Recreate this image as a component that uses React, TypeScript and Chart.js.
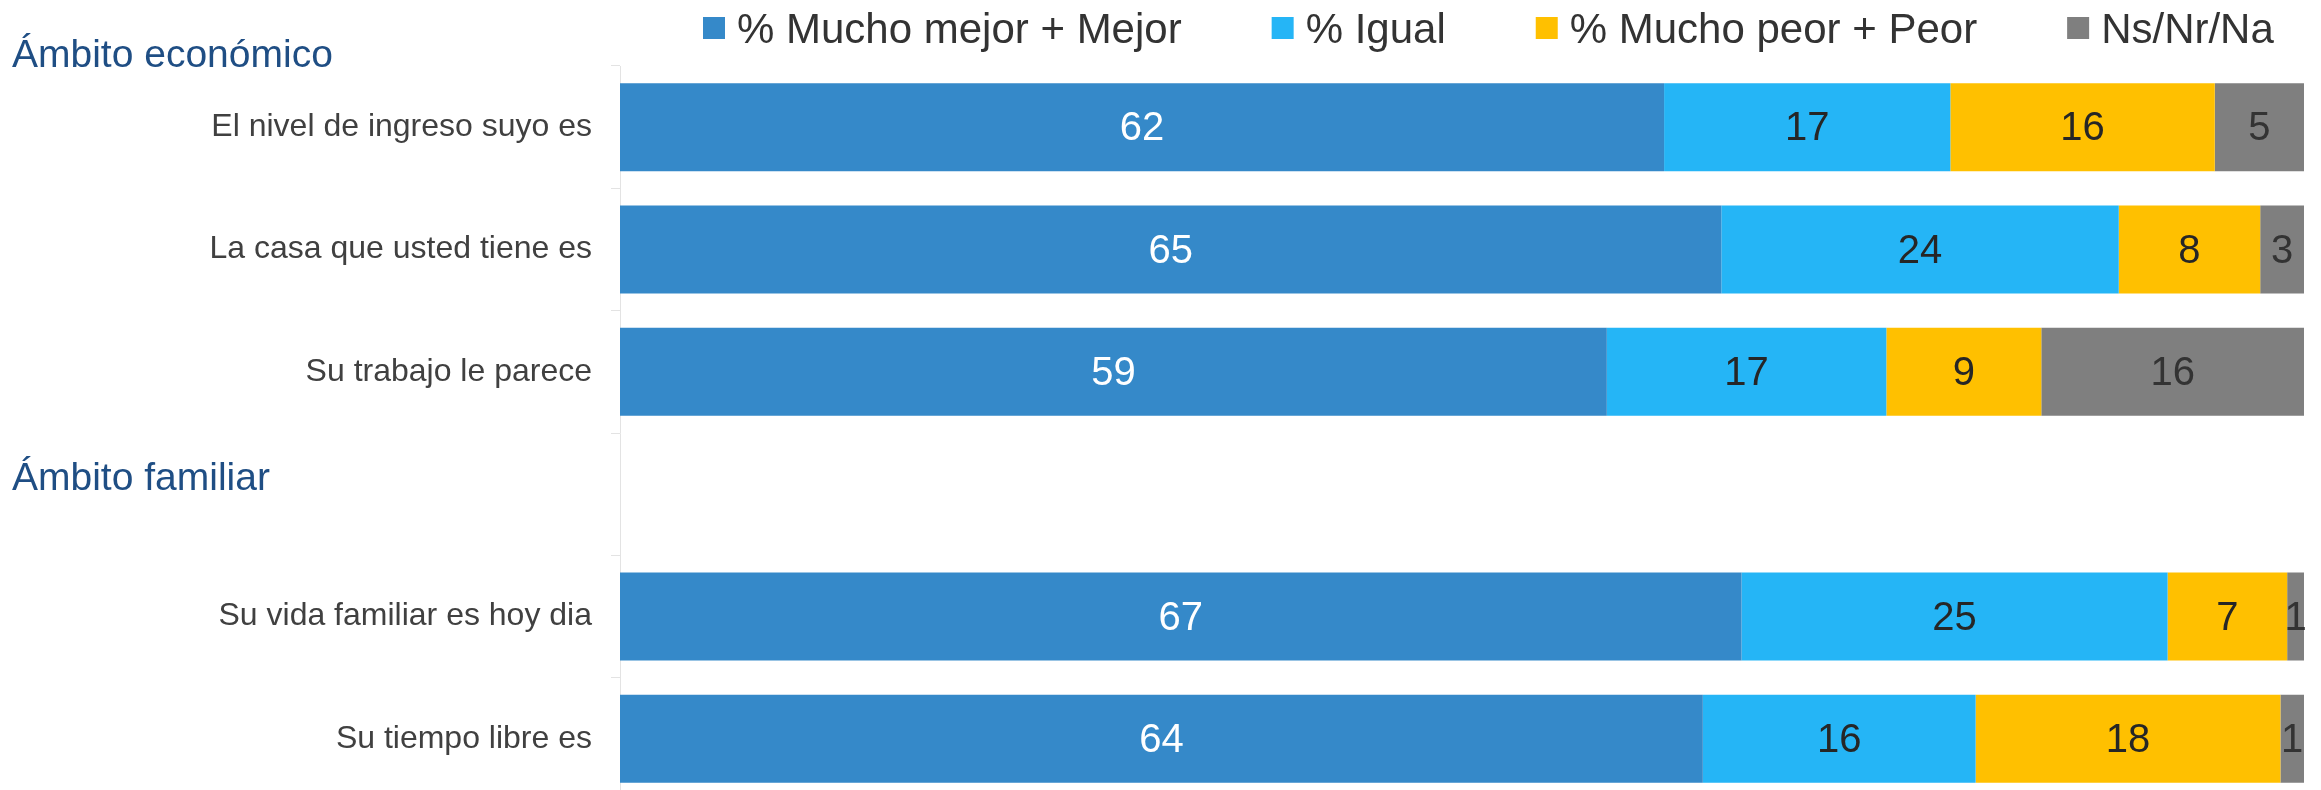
import React, { useEffect, useRef } from "react";
import { Chart, registerables } from "chart.js";

Chart.register(...registerables);

const categories = [
  "El nivel de ingreso suyo es",
  "La casa que usted tiene es",
  "Su trabajo le parece",
  "",
  "Su vida familiar es hoy dia",
  "Su tiempo libre es",
];

const seriesNames = ["% Mucho mejor + Mejor", "% Igual", "% Mucho peor + Peor", "Ns/Nr/Na"];
const seriesColors = ["#3589C9", "#25B5F6", "#FFC000", "#7F7F7F"];
const labelColors = ["#FFFFFF", "#262626", "#262626", "#333333"];

const mejor = [62.0, 65.4, 58.6, null, 66.6, 64.3];
const igual = [17.0, 23.6, 16.6, null, 25.3, 16.2];
const peor = [15.7, 8.4, 9.2, null, 7.1, 18.1];
const nsnr = [5.3, 2.6, 15.6, null, 1.0, 1.4];

const groupHeaders = ["Ámbito económico", "Ámbito familiar"];

const FONT = '"Liberation Sans", Arial, sans-serif';

export default function App() {
  const ref = useRef<HTMLCanvasElement | null>(null);

  useEffect(() => {
    const canvas = ref.current;
    if (!canvas) return;
    const seriesData = [mejor, igual, peor, nsnr];

    const overlay = {
      id: "overlay",
      afterDatasetsDraw(chart: any) {
        const ctx = chart.ctx;
        ctx.save();
        ctx.textAlign = "center";
        ctx.textBaseline = "middle";
        ctx.font = `40px ${FONT}`;
        chart.data.datasets.forEach((ds: any, i: number) => {
          const meta = chart.getDatasetMeta(i);
          meta.data.forEach((bar: any, j: number) => {
            const v = ds.data[j];
            if (v == null) return;
            const c = bar.getCenterPoint();
            ctx.fillStyle = labelColors[i];
            ctx.fillText(String(Math.round(v)), c.x, c.y + 2);
          });
        });
        ctx.restore();
      },
      afterDraw(chart: any) {
        const ctx = chart.ctx;
        const y = chart.scales.y;
        ctx.save();
        // group headers
        ctx.font = `39px ${FONT}`;
        ctx.fillStyle = "#1F4E84";
        ctx.textAlign = "left";
        ctx.textBaseline = "alphabetic";
        ctx.fillText(groupHeaders[0], 12, chart.chartArea.top + 1);
        ctx.fillText(groupHeaders[1], 12, y.getPixelForValue(3) - 4);
        // legend
        ctx.font = `42px ${FONT}`;
        let x = 703;
        const box = 22;
        seriesNames.forEach((name, i) => {
          ctx.fillStyle = seriesColors[i];
          ctx.fillRect(x, 17, box, box);
          ctx.fillStyle = "#333333";
          ctx.fillText(name, x + box + 12, 43);
          x += box + 12 + ctx.measureText(name).width + 90;
        });
        ctx.restore();
      },
    };

    const chart = new Chart(canvas, {
      type: "bar",
      data: {
        labels: categories,
        datasets: seriesNames.map((name, i) => ({
          label: name,
          data: seriesData[i],
          backgroundColor: seriesColors[i],
          borderWidth: 0,
          barPercentage: 0.72,
          categoryPercentage: 1,
        })),
      },
      options: {
        indexAxis: "y",
        responsive: false,
        animation: false,
        devicePixelRatio: 1,
        layout: { padding: { top: 66, right: 17, bottom: 0, left: 0 } },
        plugins: {
          legend: { display: false },
          tooltip: { enabled: false },
        },
        scales: {
          x: { stacked: true, min: 0, max: 100, display: false },
          y: {
            stacked: true,
            afterFit: (s: any) => {
              s.width = 620;
              s.paddingTop = 0;
              s.paddingBottom = 0;
            },
            grid: {
              drawOnChartArea: false,
              drawTicks: true,
              tickLength: 9,
              color: "#E3E3E3",
              offset: true,
            },
            border: { display: true, color: "#E3E3E3", width: 1 },
            ticks: {
              color: "#404040",
              padding: 19,
              font: { size: 32, family: FONT },
            },
          },
        },
      },
      plugins: [overlay],
    } as any);

    return () => chart.destroy();
  }, []);

  return (
    <div
      style={{
        position: "fixed",
        top: 0,
        left: 0,
        width: 2321,
        height: 790,
        overflow: "hidden",
        background: "#fff",
      }}
    >
      <canvas ref={ref} width={2321} height={800} style={{ display: "block" }} />
    </div>
  );
}
